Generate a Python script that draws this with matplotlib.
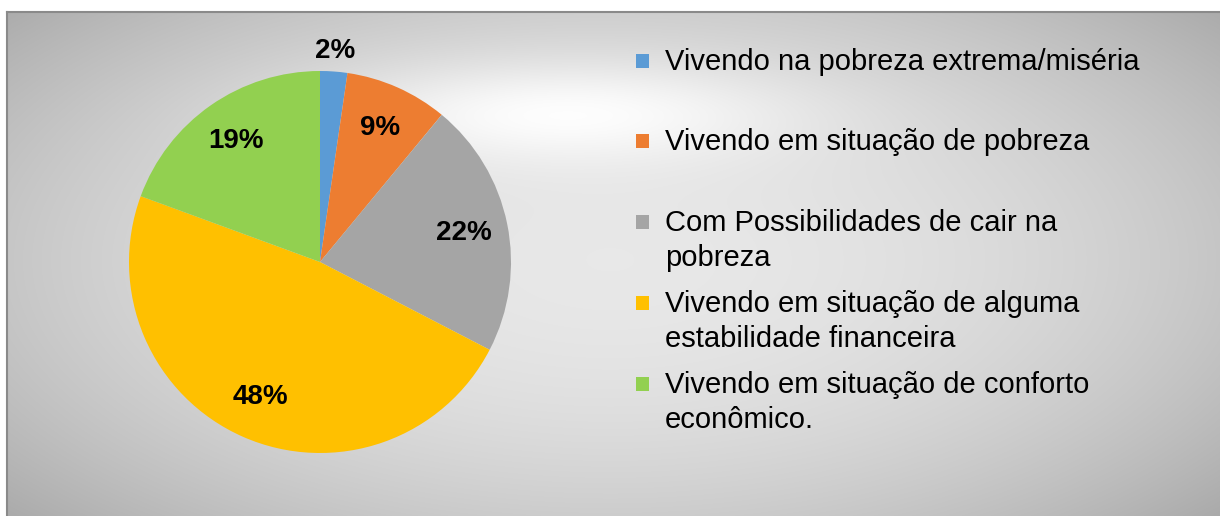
import numpy as np
import matplotlib as mpl
mpl.use('Agg')
import matplotlib.pyplot as plt
from matplotlib.patches import Rectangle

# data
categorias = ['Vivendo na pobreza extrema/miséria',
              'Vivendo em situação de pobreza',
              'Com Possibilidades de cair na\npobreza',
              'Vivendo em situação de alguma\nestabilidade financeira',
              'Vivendo em situação de conforto\neconômico.']
valores = [2.3, 8.7, 21.6, 48.0, 19.4]
cores = ['#5B9BD5', '#ED7D31', '#A5A5A5', '#FFC000', '#92D050']

plt.rcParams['font.family'] = ['Liberation Sans', 'DejaVu Sans']

W, H = 1220, 516
fig = plt.figure(figsize=(W/100, H/100), dpi=100)
fig.patch.set_facecolor('white')

# background gradient (chart area starts at x=7, y=12)
bg = fig.add_axes([0, 0, 1, 1])
yy, xx = np.mgrid[0:H, 0:W]
d2 = ((xx-610)/620.)**2 + ((yy-260)/290.)**2
img = 0.91 - 0.14*d2
glow = np.exp(-(((xx-560)/240.)**2 + ((yy-110)/50.)**2))
img = img + 0.12*glow
img = np.clip(img, 0, 1)
img[:12, :] = 1.0
img[:, :7] = 1.0
bg.imshow(np.dstack([img]*3), extent=(0, W, H, 0), aspect='auto', interpolation='bilinear')
bg.plot([7, W], [12, 12], color='#8a8a8a', lw=1.5)
bg.plot([7, 7], [12, H], color='#8a8a8a', lw=1.5)
bg.set_xlim(0, W)
bg.set_ylim(H, 0)
bg.axis('off')

# pie
cx, cy, r = 320, 262, 191
ax = fig.add_axes([(cx-r)/W, (H-cy-r)/H, 2*r/W, 2*r/H])
wedges, texts, autotexts = ax.pie(valores, colors=cores, startangle=90, counterclock=False,
                                  autopct='%.0f%%', pctdistance=0.77, radius=1,
                                  wedgeprops=dict(linewidth=0),
                                  textprops=dict(fontsize=20, fontweight='bold', color='black'))
# first label sits outside the small slice
x0, y0 = autotexts[0].get_position()
autotexts[0].set_position((x0/0.77*1.11, y0/0.77*1.11))
ax.set_xlim(-1, 1)
ax.set_ylim(-1, 1)
ax.axis('off')

# legend (drawn by hand, one line of text at a time)
baselines = [70, 150, 231, 312, 393]
for cat, cor, b in zip(categorias, cores, baselines):
    fig.patches.append(Rectangle((636/W, (H-b+2)/H), 13/W, 14/H, transform=fig.transFigure,
                                 facecolor=cor, edgecolor='none'))
    for i, linha in enumerate(cat.split('\n')):
        fig.text(665/W, (H-b-35*i)/H, linha, fontsize=21, va='baseline', ha='left',
                 color='black')

fig.savefig('out.png', dpi=100)
